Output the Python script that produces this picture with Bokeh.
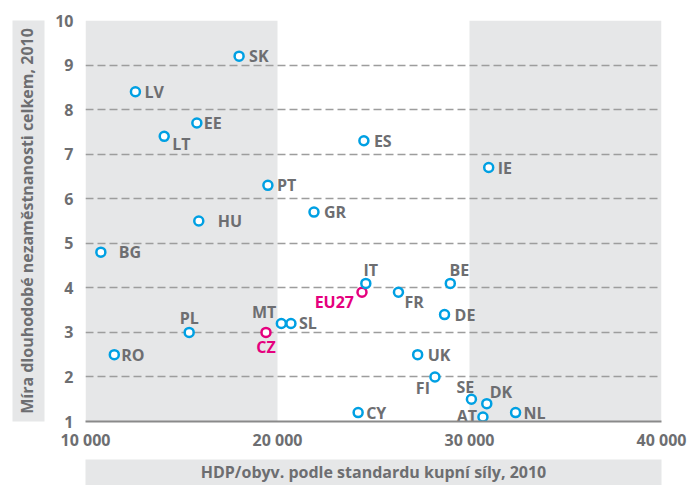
from bokeh.plotting import figure
from bokeh.models import ColumnDataSource, LinearAxis, FixedTicker
from bokeh.core.properties import value
from bokeh.embed import file_html
from bokeh.resources import INLINE

# ---- data ----
countries = ["SK", "LV", "EE", "LT", "PT", "HU", "GR", "ES", "IE", "BG", "PL", "RO",
             "CZ", "MT", "SL", "EU27", "IT", "FR", "BE", "DE", "UK", "FI", "SE", "DK",
             "AT", "NL", "CY"]
gdp_pps = [18000, 12600, 15800, 14100, 19500, 15900, 21900, 24500, 31000, 10800, 15400, 11500,
           19400, 20200, 20700, 24400, 24600, 26300, 29000, 28700, 27300, 28200, 30100, 30900,
           30700, 32400, 24200]
ltu_rate = [9.2, 8.4, 7.7, 7.4, 6.3, 5.5, 5.7, 7.3, 6.7, 4.8, 3.0, 2.5,
            3.0, 3.2, 3.2, 3.9, 4.1, 3.9, 4.1, 3.4, 2.5, 2.0, 1.5, 1.4,
            1.1, 1.2, 1.2]
highlight = ["CZ", "EU27"]
x_ticks = [10000, 20000, 30000, 40000]
x_tick_labels = ["10 000", "20 000", "30 000", "40 000"]
y_ticks = [1, 2, 3, 4, 5, 6, 7, 8, 9, 10]
band_left = [10000, 30000]
band_right = [20000, 40000]
x_title = "HDP/obyv. podle standardu kupní síly, 2010"
y_title = "Míra dlouhodobé nezaměstnanosti celkem, 2010"

# ---- label placement (screen px: dx, dy down, align) ----
label_pos = {
    "SK": ("left", 10, 0), "LV": ("left", 9, 0), "EE": ("left", 7, 0),
    "LT": ("left", 8, 8), "PT": ("left", 9, 0), "HU": ("left", 19, 0),
    "GR": ("left", 10, 0), "ES": ("left", 10, 0), "IE": ("left", 9, 0),
    "BG": ("left", 18, 0), "PL": ("center", 0, -14), "RO": ("left", 7, 0),
    "CZ": ("center", 0, 15), "MT": ("right", -5, -11), "SL": ("left", 8, 0),
    "EU27": ("right", -8, 10), "IT": ("center", 5, -13), "FR": ("left", 6, 10),
    "BE": ("center", 9, -13), "DE": ("left", 10, 0), "UK": ("left", 10, 0),
    "FI": ("right", -5, 11), "SE": ("center", -6, -12), "DK": ("left", 3, -12),
    "AT": ("right", -6, -1), "NL": ("left", 8, 0), "CY": ("left", 8, 0),
}

BLUE = "#00a0e3"
MAGENTA = "#e5007e"
GRAY_TXT = "#6d6e71"
BAND = "#e6e7e8"
FONT = "Open Sans"

src = ColumnDataSource(dict(
    x=gdp_pps, y=ltu_rate, name=countries,
    color=[MAGENTA if c in highlight else BLUE for c in countries],
    tcolor=[MAGENTA if c in highlight else GRAY_TXT for c in countries],
    align=[label_pos[c][0] for c in countries],
    dx=[label_pos[c][1] for c in countries],
    dy=[label_pos[c][2] for c in countries],
))

p = figure(width=688, height=485, x_range=(10000, 40000), y_range=(1, 10),
           output_backend="svg", toolbar_location=None,
           x_axis_location=None, y_axis_location=None,
           min_border_left=85, min_border_right=27, min_border_top=20, min_border_bottom=62)
p.outline_line_color = None
p.background_fill_color = "white"
p.border_fill_color = "white"

# bands
p.quad(left=band_left, right=band_right, bottom=1, top=10, fill_color=BAND,
       line_color=None, level="image")

# axes
def style_common(ax):
    ax.major_tick_line_color = None
    ax.minor_tick_line_color = None
    ax.major_tick_out = 0
    ax.major_tick_in = 0
    ax.minor_tick_out = 0
    ax.minor_tick_in = 0
    ax.major_label_text_font = FONT
    ax.major_label_text_font_style = "bold"
    ax.major_label_text_font_size = "16px"
    ax.major_label_text_color = GRAY_TXT
    ax.axis_label_text_font = FONT
    ax.axis_label_text_font_style = "bold"
    ax.axis_label_text_font_size = "16px"
    ax.axis_label_text_color = GRAY_TXT

xa = LinearAxis(ticker=FixedTicker(ticks=x_ticks),
                major_label_overrides={t: l for t, l in zip(x_ticks, x_tick_labels)})
style_common(xa)
xa.axis_line_color = "#8a8a8a"
xa.axis_line_width = 2
xa.major_label_standoff = 7
xa.axis_label = " "
xa.axis_label_text_font_size = "2px"
xa.axis_label_standoff = 0
p.add_layout(xa, "below")

xt = LinearAxis(ticker=FixedTicker(ticks=[]), axis_label=x_title)
style_common(xt)
xt.axis_line_color = None
xt.axis_label_standoff = 1
xt.background_fill_color = BAND
p.add_layout(xt, "below")

ya = LinearAxis(ticker=FixedTicker(ticks=y_ticks))
style_common(ya)
ya.axis_line_color = None
ya.major_label_standoff = 12
ya.axis_label = " "
ya.axis_label_text_font_size = "2px"
ya.axis_label_standoff = 2
p.add_layout(ya, "left")

yt = LinearAxis(ticker=FixedTicker(ticks=[]), axis_label=y_title)
style_common(yt)
yt.axis_line_color = None
yt.axis_label_standoff = 7
yt.background_fill_color = BAND
p.add_layout(yt, "left")

p.xgrid.visible = False
p.ygrid.ticker = FixedTicker(ticks=y_ticks[1:])
p.ygrid.grid_line_color = "#9d9d9d"
p.ygrid.grid_line_width = 1.5
p.ygrid.grid_line_dash = "8 4"
p.ygrid.level = "underlay"

p.scatter("x", "y", source=src, size=9, line_width=2.5, line_color="color",
          fill_color="white")
p.text("x", "y", text="name", source=src, text_align="align", text_baseline="middle",
       x_offset="dx", y_offset="dy", text_color="tcolor",
       text_font=value(FONT), text_font_style="bold", text_font_size="16px")

open("out.html", "w").write(file_html(p, INLINE))
